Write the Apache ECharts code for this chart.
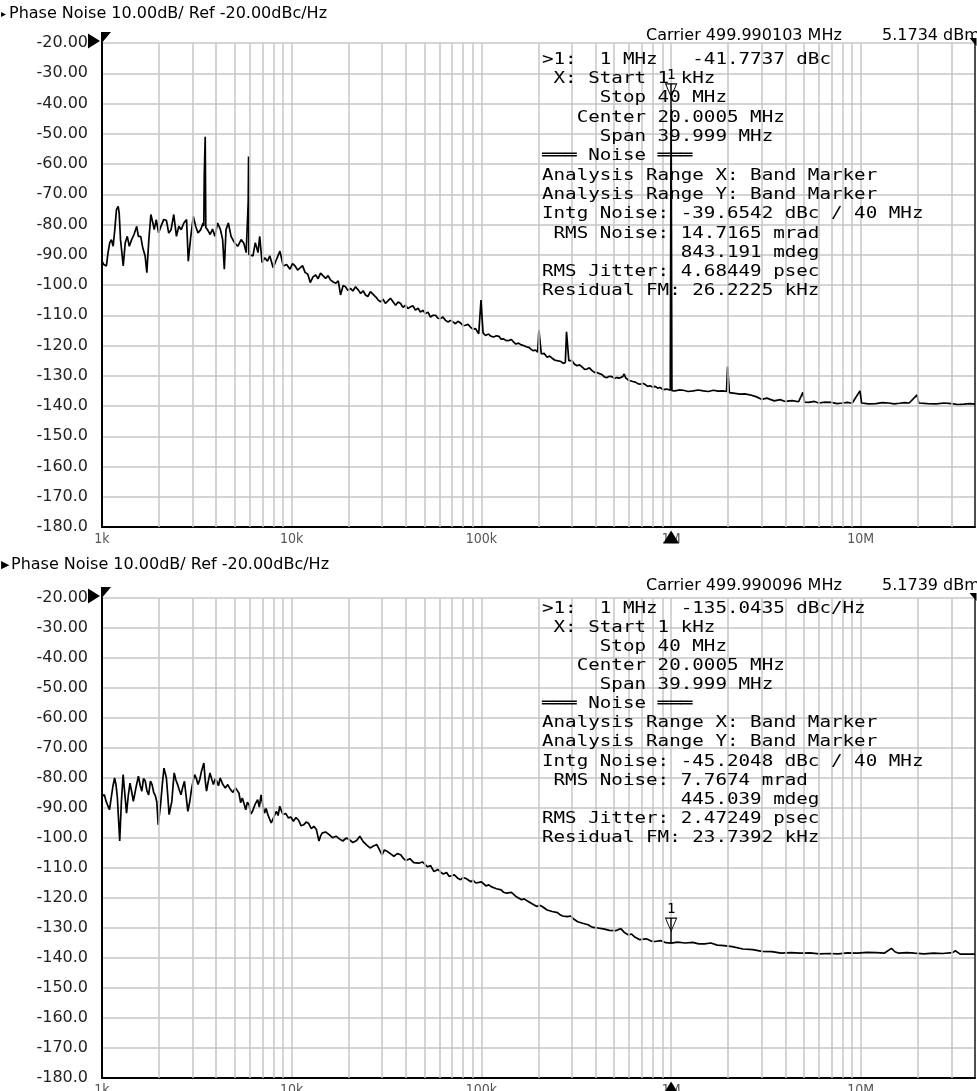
<!DOCTYPE html>
<html><head><meta charset="utf-8">
<script src="https://cdn.jsdelivr.net/npm/echarts@6/dist/echarts.min.js"></script>
<style>html,body{margin:0;padding:0;background:#fff;}#c{width:977px;height:1091px;}</style>
</head><body><div id="c"></div>
<script>
// ---------------- data ----------------
const X_MIN = 1000, X_MAX = 40000000;
const Y_MIN = -180, Y_MAX = -20, Y_STEP = 10;
const X_TICK_LABELS = {1000:'1k', 10000:'10k', 100000:'100k', 1000000:'1M', 10000000:'10M'};
const DECADES = [1000, 10000, 100000, 1000000, 10000000];
const MINOR_MULTIPLIERS = [2, 3, 4, 5, 6, 7, 8, 9];

const TITLE_TEXT = 'Phase Noise 10.00dB/ Ref -20.00dBc/Hz';
const TOP_CARRIER = 'Carrier 499.990103 MHz';
const TOP_POWER = '5.1734 dBm';
const BOT_CARRIER = 'Carrier 499.990096 MHz';
const BOT_POWER = '5.1739 dBm';

const TOP_NOTE = [
  '>1:  1 MHz   -41.7737 dBc',
  ' X: Start 1 kHz',
  '     Stop 40 MHz',
  '   Center 20.0005 MHz',
  '     Span 39.999 MHz',
  '\u2550\u2550\u2550 Noise \u2550\u2550\u2550',
  'Analysis Range X: Band Marker',
  'Analysis Range Y: Band Marker',
  'Intg Noise: -39.6542 dBc / 40 MHz',
  ' RMS Noise: 14.7165 mrad',
  '            843.191 mdeg',
  'RMS Jitter: 4.68449 psec',
  'Residual FM: 26.2225 kHz'
];
const BOT_NOTE = [
  '>1:  1 MHz  -135.0435 dBc/Hz',
  ' X: Start 1 kHz',
  '     Stop 40 MHz',
  '   Center 20.0005 MHz',
  '     Span 39.999 MHz',
  '\u2550\u2550\u2550 Noise \u2550\u2550\u2550',
  'Analysis Range X: Band Marker',
  'Analysis Range Y: Band Marker',
  'Intg Noise: -45.2048 dBc / 40 MHz',
  ' RMS Noise: 7.7674 mrad',
  '            445.039 mdeg',
  'RMS Jitter: 2.47249 psec',
  'Residual FM: 23.7392 kHz'
];

const TOP_MARKER = [1000000, -41.7737];
const BOT_MARKER = [1000000, -135.0435];

// [frequency Hz, dBc/Hz]
const TOP_TRACE = [
[1000,-92.1],[1021,-93.2],[1055,-93.7],[1076,-89.3],[1099,-86],[1121,-85],[1145,-87.2],[1168,-81.7],[1192,-75.1],[1217,-74],
[1232,-76.2],[1252,-85],[1278,-90.4],[1294,-93.7],[1326,-86],[1359,-83.9],[1393,-87.2],[1433,-85],[1475,-83.3],[1524,-80.6],
[1555,-83.9],[1600,-83.9],[1640,-87.7],[1688,-90.4],[1723,-95.9],[1766,-85],[1810,-76.7],[1854,-79.5],[1885,-81.7],[1932,-78.4],
[1988,-82.8],[2046,-80.6],[2113,-78.4],[2184,-78.6],[2248,-82.8],[2313,-81.7],[2389,-76.7],[2469,-83.9],[2541,-80.6],[2615,-81.7],
[2701,-79.5],[2791,-78.4],[2850,-92.1],[2932,-84.4],[3030,-77.3],[3117,-80.6],[3208,-82.8],[3314,-81.7],[3412,-79.5],[3440,-80.5],
[3460,-64],[3500,-51],[3525,-81],[3597,-81.7],[3717,-83.3],[3825,-81.5],[3936,-83.9],[4067,-79.5],[4202,-81.5],[4325,-85],
[4414,-94.8],[4505,-81.7],[4636,-79.5],[4790,-83.9],[4989,-86],[5197,-87.2],[5415,-85],[5595,-86.2],[5758,-89.3],[5880,-89.5],
[5900,-72.3],[5925,-57.5],[5950,-89.9],[6072,-89.9],[6248,-90.4],[6430,-86],[6643,-89.3],[6781,-83.9],[6980,-92.6],[7212,-91],
[7451,-92.1],[7667,-90.4],[7988,-94.3],[8321,-91.5],[8667,-88.8],[9029,-93.7],[9406,-93.2],[9797,-94.8],[10100,-92.9],[10420,-93.7],
[10750,-95.1],[11080,-94.3],[11400,-93.6],[11780,-95.9],[12150,-96.4],[12525,-99.2],[12950,-97.3],[13370,-96.7],[13780,-97.9],[14200,-96.1],
[14650,-97.0],[15100,-97.8],[15550,-96.9],[16000,-98.3],[16550,-99.0],[17100,-99.4],[17600,-98.6],[18100,-103.3],[18650,-100.2],[19200,-100.6],
[19800,-101.8],[20400,-101.1],[21000,-102.0],[21700,-100.6],[22400,-101.6],[23100,-102.8],[23800,-101.9],[24500,-103.3],[25200,-103.8],[26000,-102.2],
[26800,-103.0],[27700,-103.9],[28500,-104.9],[29400,-105.6],[30300,-104.7],[31200,-106.1],[32200,-105.2],[33200,-104.4],[34200,-105.5],[35300,-106.7],
[36400,-105.6],[37500,-106.1],[38600,-107.4],[39800,-106.7],[41000,-107.8],[42300,-107.2],[43600,-106.9],[44900,-108.3],[46300,-107.7],[47700,-108.9],
[49200,-108.4],[50700,-109.4],[52300,-109.0],[53900,-110.6],[55600,-110.0],[57300,-110],[59000,-111.0],[60800,-111.1],[62700,-110.6],[64700,-111.7],
[66700,-112.2],[68700,-111.7],[70800,-112.2],[73000,-112.8],[75200,-112.0],[77500,-112.5],[80000,-113.4],[82400,-113.3],[85000,-113.0],[87500,-113.9],
[90200,-114.6],[93000,-114.4],[96800,-116.1],[98500,-116],[99500,-105],[100700,-104.6],[102000,-115.8],[105000,-116.7],[109000,-116.2],[112000,-116.9],
[116000,-117.2],[120000,-116.8],[124000,-117.0],[127000,-117.9],[131000,-117.8],[135000,-118.4],[140000,-118.3],[144000,-118.0],[148000,-118.9],[152000,-119.5],
[157000,-119.2],[162000,-119.8],[167000,-120],[172000,-120.4],[178000,-120.6],[183000,-121.3],[188000,-121.7],[193000,-121.5],[198000,-122.2],[201000,-115],
[204000,-115.5],[207000,-122.8],[214000,-122.6],[222000,-123.9],[229000,-123.5],[236000,-124.2],[243000,-124.8],[250000,-125],[256000,-124.6],[263000,-125.3],
[270000,-125.9],[277000,-125.6],[281000,-115.5],[286000,-116],[289000,-125],[294000,-124.8],[300000,-125],[309000,-126.1],[319000,-126.7],[329000,-126.4],
[340000,-127.1],[350000,-127.9],[360000,-127.8],[371000,-127.4],[382000,-128.2],[394000,-128.9],[406000,-128.9],[419000,-129.3],[432000,-129.6],[445000,-130.4],
[459000,-130.6],[473000,-130.2],[488000,-130.3],[503000,-130.9],[518000,-130.6],[532000,-130.8],[545000,-130.9],[556000,-130.3],[566000,-129.4],[575000,-130.6],
[585000,-131.0],[597000,-131.5],[609000,-131.7],[628000,-131.9],[648000,-132.1],[667000,-132.6],[687000,-132.8],[708000,-132.5],[730000,-132.9],[752000,-133.5],
[775000,-133.3],[800000,-133.8],[825000,-133.5],[850000,-134.1],[875000,-133.9],[910000,-134.6],[948000,-134.4],[990000,-134.8],[1000000,-41.77],[1010000,-134.9],
[1050000,-135],[1100000,-134.7],[1160000,-134.8],[1230000,-135.2],[1310000,-135],[1390000,-134.7],[1480000,-135],[1570000,-135.2],[1670000,-134.8],[1770000,-135.1],
[1880000,-135],[1960000,-135.2],[1985000,-127],[2005000,-127.3],[2030000,-135.6],[2170000,-135.8],[2310000,-136.1],[2450000,-136.0],[2600000,-136.3],[2800000,-136.9],
[3000000,-137.8],[3200000,-137.4],[3500000,-138.3],[3750000,-137.9],[4000000,-138.5],[4350000,-138.2],[4700000,-138.6],[4950000,-135.5],[5050000,-138.7],[5300000,-138.8],
[5700000,-138.5],[6000000,-139],[6500000,-138.7],[7000000,-138.8],[7500000,-139.2],[8000000,-139],[8500000,-138.8],[9000000,-139.1],[9900000,-135],[10100000,-139],
[11000000,-139.3],[12000000,-139.2],[13000000,-138.9],[14000000,-139],[15000000,-139.3],[16000000,-139.1],[17000000,-138.9],[18000000,-139],[19800000,-136.3],[20200000,-139],
[22500000,-139.2],[25000000,-139.3],[27500000,-139.0],[30000000,-139.2],[32500000,-139.5],[35000000,-139.4],[37500000,-139.2],[40000000,-139.4]
];

const BOT_TRACE = [
[1000,-86.1],[1029,-85.6],[1051,-87.8],[1095,-90.6],[1140,-83],[1165,-80],[1185,-82.2],[1205,-86.5],[1240,-101],[1265,-88],
[1292,-78.9],[1319,-78.9],[1347,-91.7],[1375,-86.0],[1404,-81.7],[1433,-84.5],[1463,-87.8],[1510,-83.2],[1556,-79.4],[1590,-82.5],
[1622,-84.4],[1655,-80.2],[1690,-81],[1725,-84.3],[1762,-85.6],[1800,-81.0],[1836,-82.2],[1875,-84.9],[1913,-86],[1945,-88.0],
[1978,-95.6],[2036,-88.9],[2080,-82.0],[2122,-76.7],[2185,-80],[2220,-85.5],[2258,-92.2],[2334,-87.8],[2370,-82.4],[2402,-78.3],
[2450,-80.6],[2504,-82.2],[2555,-84.0],[2609,-85.6],[2665,-83.0],[2720,-81.1],[2780,-86.4],[2835,-91.1],[2900,-88.0],[2954,-84.4],
[3015,-81.3],[3078,-78.9],[3140,-80.1],[3208,-82.2],[3275,-80.5],[3344,-77.8],[3443,-75],[3500,-80.8],[3557,-84.4],[3630,-81.2],
[3708,-78.3],[3790,-80.4],[3865,-82.2],[3950,-80.3],[4027,-81.1],[4110,-82.6],[4198,-80],[4330,-82.1],[4466,-83.3],[4600,-82.2],
[4751,-83.8],[4900,-84.8],[5056,-83.3],[5268,-85],[5380,-88.2],[5492,-86.7],[5610,-88.6],[5723,-90.6],[5840,-88.1],[5965,-88.9],
[6090,-92.0],[6217,-91.1],[6410,-88.8],[6614,-87.2],[6750,-89.7],[6893,-85.6],[7040,-88.9],[7184,-91.7],[7330,-90.2],[7486,-92.2],
[7640,-93.6],[7803,-95],[8050,-93.0],[8302,-91.1],[8480,-92.5],[8653,-89.4],[8830,-91.0],[9018,-92.2],[9300,-91.8],[9594,-93.3],
[9900,-93.0],[10210,-94.4],[10530,-93.2],[10860,-94],[11200,-95.9],[11560,-95.6],[11920,-94.7],[12295,-95.2],[12680,-96.9],[13085,-96.1],
[13500,-97.2],[13920,-101],[14200,-99.3],[14510,-98.3],[15100,-98.0],[15760,-98.9],[16400,-99.9],[17120,-99.4],[17850,-100.3],[18590,-101],
[19400,-100.0],[20200,-100.6],[21000,-101.5],[22000,-100.8],[22860,-99.4],[23820,-101.2],[24800,-102.3],[25880,-103.3],[27000,-102.7],[28110,-102.2],
[29000,-103.9],[29910,-105.6],[30800,-104.0],[31810,-104.4],[33100,-105.2],[34560,-106.1],[36000,-105.2],[37540,-105.6],[38800,-106.8],[40000,-107.5],
[42000,-106.9],[44000,-108.2],[46700,-108.4],[49000,-108.0],[52000,-109.6],[54000,-109.2],[56200,-111.2],[59000,-110.5],[61000,-111.4],[63000,-112.0],
[65500,-111.5],[67700,-112.8],[72000,-112.3],[75000,-113.4],[77700,-113.9],[80000,-113.2],[83000,-113.5],[88000,-114.6],[90500,-114.1],[93500,-115.0],
[100000,-114.6],[106000,-116.0],[109000,-115.6],[112600,-116.2],[120000,-116.9],[127000,-117.3],[131000,-118.1],[135500,-118.4],[144000,-118.1],[153000,-119.6],
[163000,-120.6],[168000,-120.3],[174000,-120.9],[185000,-121.9],[196000,-122.8],[203000,-122.4],[210000,-122.9],[222000,-124.0],[236000,-124.5],[252000,-124.9],
[260000,-125.6],[268000,-126.0],[284000,-126.2],[295000,-126.0],[305000,-126.9],[322000,-127.9],[342000,-128.4],[365000,-128.9],[376000,-129.4],[388000,-129.8],
[411000,-130.0],[440000,-130.3],[473000,-130.8],[510000,-130.9],[543000,-130.2],[570000,-131.6],[596000,-132.3],[618000,-132.0],[640000,-132.9],[684000,-133.9],
[740000,-133.6],[790000,-134.4],[824000,-134.5],[880000,-134.2],[940000,-134.9],[1000000,-135.04],[1080000,-134.7],[1190000,-135.0],[1300000,-134.8],[1400000,-135.3],
[1500000,-135.3],[1620000,-135.0],[1750000,-135.7],[1900000,-135.9],[2100000,-136.2],[2390000,-137.0],[2700000,-137.2],[3010000,-137.8],[3400000,-137.9],[3800000,-138.4],
[4300000,-138.2],[4790000,-138.4],[5400000,-138.3],[6030000,-138.6],[6800000,-138.5],[7600000,-138.6],[8500000,-138.3],[9580000,-138.4],[10800000,-138.1],[12100000,-138.2],
[13300000,-138.4],[14500000,-136.8],[15200000,-138.0],[15900000,-138.4],[17500000,-138.2],[19200000,-138.4],[21500000,-138.6],[24200000,-138.4],[27000000,-138.5],[30500000,-138.2],
[31500000,-137.6],[33400000,-138.7],[37000000,-138.7],[40000000,-138.7]
];

// ---------------- chart ----------------
const GRID_COLOR = '#c6c6c6';
const MINOR_X = DECADES.flatMap(d => MINOR_MULTIPLIERS.map(m => d * m)).filter(v => v < X_MAX);
const MARKER_PATH = 'path://M0,0L12,0L6,13ZM5.5,0L6.5,0L6.5,24L5.5,24Z';

const chart = echarts.init(document.getElementById('c'), null, {renderer: 'canvas', width: 977, height: 1091});

const GRIDS = [
  {left: 102, top: 43, width: 873, height: 484},
  {left: 102, top: 598, width: 873, height: 480}
];

function yLabel(v) {
  return (v < 0 ? '-' : '') + Math.abs(v).toPrecision(4);
}

function xAxisFor(i) {
  return {
    gridIndex: i, type: 'log', logBase: 10, min: X_MIN, max: X_MAX,
    axisLine: {show: true, onZero: false, lineStyle: {color: '#000', width: 2}},
    axisTick: {show: false},
    axisLabel: {
      show: true, margin: 5, color: '#555', fontSize: 14,
      fontFamily: '"DejaVu Sans Condensed", "DejaVu Sans", sans-serif',
      showMaxLabel: false, showMinLabel: true,
      formatter: v => X_TICK_LABELS[Math.round(v)] || ''
    },
    splitLine: {show: true, lineStyle: {color: GRID_COLOR, width: 1.5}}
  };
}
function yAxisFor(i) {
  return {
    gridIndex: i, type: 'value', min: Y_MIN, max: Y_MAX, interval: Y_STEP,
    axisLine: {show: true, onZero: false, lineStyle: {color: '#000', width: 2}},
    axisTick: {show: false},
    axisLabel: {show: true, margin: 14, color: '#222', fontSize: 16,
      fontFamily: '"DejaVu Sans", sans-serif', formatter: yLabel},
    splitLine: {show: true, lineStyle: {color: GRID_COLOR, width: 1.5}}
  };
}
function rightAxisFor(i) {
  return {
    gridIndex: i, type: 'value', min: Y_MIN, max: Y_MAX, position: 'right',
    axisLine: {show: true, onZero: false, lineStyle: {color: '#222', width: 1.5}},
    axisTick: {show: false}, axisLabel: {show: false}, splitLine: {show: false}
  };
}

function markerItems(markerCoord) {
  return [
    {coord: markerCoord, symbol: MARKER_PATH, symbolSize: [11, 24], symbolOffset: [0, -13],
     itemStyle: {color: 'rgba(255,255,255,0)', borderColor: '#000', borderWidth: 1},
     label: {show: true, formatter: '1', position: 'top', distance: 1, color: '#000', fontSize: 14,
       fontFamily: '"DejaVu Sans Mono", monospace'}},
    {coord: [X_MIN, Y_MAX], symbol: 'path://M0,0L12,7L0,14Z', symbolSize: [12, 15], symbolOffset: [-8, -2],
     itemStyle: {color: '#000'}},
    {coord: [X_MIN, Y_MAX], symbol: 'path://M0,0L10,0L0,12Z', symbolSize: [10, 12], symbolOffset: [4, -5],
     itemStyle: {color: '#000'}},
    {coord: [1000000, Y_MIN], symbol: 'triangle', symbolSize: [16, 13], symbolOffset: [0, 10],
     itemStyle: {color: '#000'}},
    {coord: [X_MAX, Y_MAX], symbol: 'path://M0,0L10,0L10,10Z', symbolSize: [7, 8], symbolOffset: [-2, -1],
     itemStyle: {color: '#000'}}
  ];
}

function seriesFor(i, trace, markerCoord) {
  return [
    {
      type: 'line', xAxisIndex: i, yAxisIndex: i, data: [], silent: true, z: 1,
      markLine: {silent: true, symbol: ['none', 'none'], label: {show: false}, animation: false,
        lineStyle: {color: GRID_COLOR, width: 1.5, type: 'solid'},
        emphasis: {disabled: true},
        data: MINOR_X.map(v => ({xAxis: v}))}
    },
    {
      type: 'line', xAxisIndex: i, yAxisIndex: i, data: trace, showSymbol: false, symbol: 'none',
      silent: true, z: 3, clip: false,
      lineStyle: {color: '#000', width: 1.7},
      markPoint: {silent: true, label: {show: false}, animation: false, data: markerItems(markerCoord)}
    }
  ];
}

function txt(x, y, text, font, extra) {
  return Object.assign({
    type: 'text', x: x, y: y, silent: true, z: 20,
    style: {text: text, font: font, fill: '#000', align: 'left', verticalAlign: 'middle'}
  }, extra || {});
}

const SANS16 = '16px "DejaVu Sans", sans-serif';
const MONO = '16px "DejaVu Sans Mono", monospace';

const graphic = [
  txt(1, 14, '\u25B8', '10px "DejaVu Sans", sans-serif'),
  txt(9, 14, TITLE_TEXT, SANS16),
  txt(1, 565, '\u25B6', '11px "DejaVu Sans", sans-serif'),
  txt(11, 565, TITLE_TEXT, SANS16),
  txt(646, 36, TOP_CARRIER, SANS16),
  txt(882, 36, TOP_POWER, SANS16),
  txt(646, 586, BOT_CARRIER, SANS16),
  txt(882, 586, BOT_POWER, SANS16),
  {type: 'text', x: 542, y: 50, scaleX: 1.2, silent: true, z: 20,
   style: {text: TOP_NOTE.join('\n'), font: MONO, fill: '#000', lineHeight: 19.3, align: 'left', verticalAlign: 'top'}},
  {type: 'text', x: 542, y: 599, scaleX: 1.2, silent: true, z: 20,
   style: {text: BOT_NOTE.join('\n'), font: MONO, fill: '#000', lineHeight: 19.1, align: 'left', verticalAlign: 'top'}}
];

chart.setOption({
  animation: false,
  backgroundColor: '#fff',
  grid: GRIDS.map(g => Object.assign({containLabel: false, outerBoundsMode: 'none', show: false}, g)),
  xAxis: [xAxisFor(0), xAxisFor(1)],
  yAxis: [yAxisFor(0), yAxisFor(1), rightAxisFor(0), rightAxisFor(1)],
  series: seriesFor(0, TOP_TRACE, TOP_MARKER).concat(seriesFor(1, BOT_TRACE, BOT_MARKER)),
  graphic: graphic
});
</script></body></html>
